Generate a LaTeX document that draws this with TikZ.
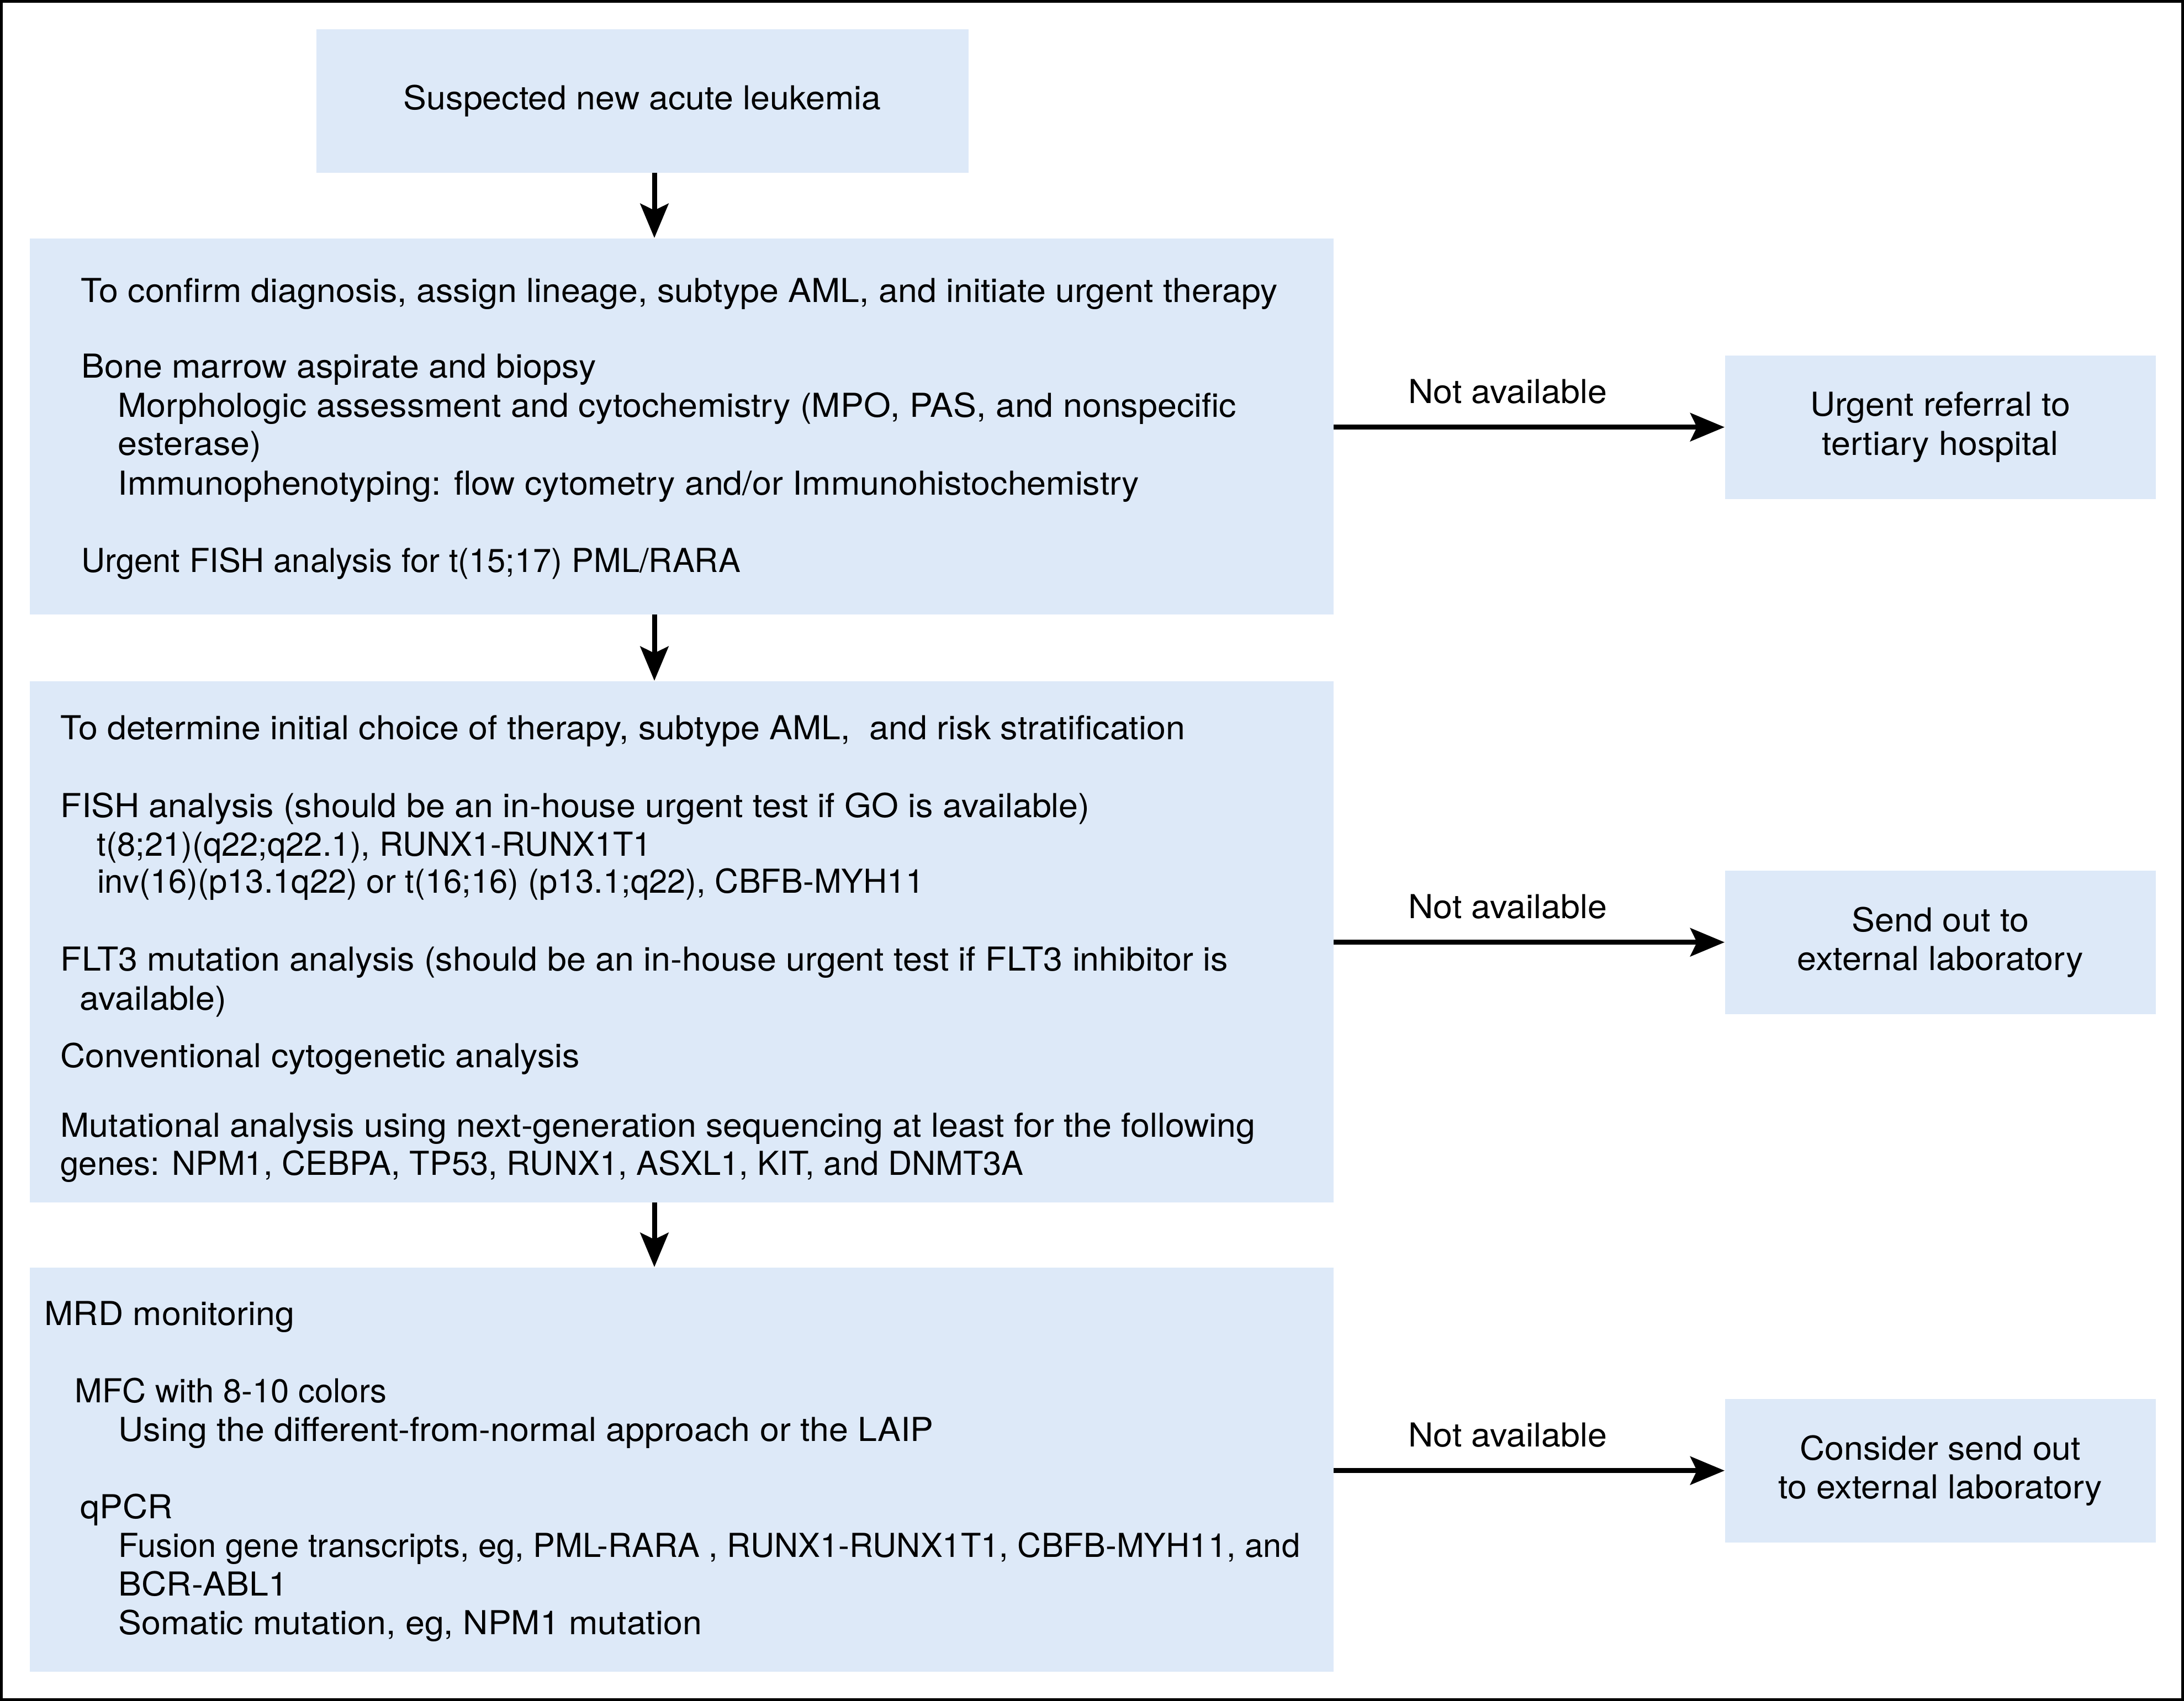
\documentclass[tikz,border=0pt]{standalone}
\usepackage{fontspec}
\setmainfont{TeX Gyre Heros}[FakeStretch=1.05]
\newfontfamily\plainheros{TeX Gyre Heros}
\usetikzlibrary{positioning}
\usetikzlibrary{arrows.meta}
\definecolor{paleblue}{RGB}{221,233,248}

\tikzset{
  box/.style={fill=paleblue, inner sep=0pt, anchor=north west, align=center},
  line/.style={anchor=base west, inner sep=0pt},
  codes/.style={font=\fontsize{17}{20.1}\plainheros},
  flow/.style={-{Stealth[length=6.2mm,width=5.1mm,inset=1.2mm]}, line width=0.9mm},
  na/.style={anchor=base, inner sep=0pt, yshift=4.3mm}
}

\begin{document}
\begin{tikzpicture}[x=1cm,y=1cm,font=\fontsize{17}{20.1}\selectfont]
	\useasboundingbox (0,0) rectangle (39.55,-30.81);
	\draw[line width=0.5mm] (0.025,-0.025) rectangle (39.525,-30.785);
	
	% main column
	\node[box, minimum width=11.81cm, minimum height=2.60cm] (suspect) at (5.72,-0.52) {Suspected new acute leukemia};
	\node[box, minimum width=23.61cm, minimum height=6.81cm] (confirm) at (0.53,-4.31) {};
	\node[box, minimum width=23.61cm, minimum height=9.44cm] (determine) at (0.53,-12.33) {};
	\node[box, minimum width=23.61cm, minimum height=7.32cm] (mrd) at (0.53,-22.95) {};
	
	% side boxes
	\node[box, minimum width=7.80cm, minimum height=2.60cm] (referral) at (31.23,-6.43) {Urgent referral to\\tertiary hospital};
	\node[box, minimum width=7.80cm, minimum height=2.60cm] (sendout) at (31.23,-15.76) {Send out to\\external laboratory};
	\node[box, minimum width=7.80cm, minimum height=2.60cm] (consider) at (31.23,-25.33) {Consider send out\\to external laboratory};
	
	% text of the confirm box
	\node[line] (c1) at (1.46,-5.48) {To confirm diagnosis, assign lineage, subtype AML, and initiate urgent therapy};
	\node[line] (c2) at (1.47,-6.85) {Bone marrow aspirate and biopsy};
	\node[line] (c3) at (2.13,-7.56) {Morphologic assessment and cytochemistry (MPO, PAS, and nonspecific};
	\node[line] (c4) at (2.13,-8.25) {esterase)};
	\node[line] (c5) at (2.13,-8.96) {Immunophenotyping: flow cytometry and/or Immunohistochemistry};
	\node[line, codes] (c6) at (1.47,-10.36) {Urgent FISH analysis for t(15;17) PML/RARA};
	
	% text of the determine box
	\node[line] (d1) at (1.09,-13.39) {To determine initial choice of therapy, subtype AML,\ \ and risk stratification};
	\node[line] (d2) at (1.09,-14.80) {FISH analysis (should be an in-house urgent test if GO is available)};
	\node[line, codes] (d3) at (1.75,-15.50) {t(8;21)(q22;q22.1), RUNX1-RUNX1T1};
	\node[line, codes] (d4) at (1.76,-16.17) {inv(16)(p13.1q22) or t(16;16) (p13.1;q22), CBFB-MYH11};
	\node[line] (d5) at (1.09,-17.58) {FLT3 mutation analysis (should be an in-house urgent test if FLT3 inhibitor is};
	\node[line] (d6) at (1.44,-18.29) {available)};
	\node[line] (d7) at (1.09,-19.33) {Conventional cytogenetic analysis};
	\node[line] (d8) at (1.09,-20.59) {Mutational analysis using next-generation sequencing at least for the following};
	\node[line, codes] (d9) at (1.09,-21.28) {genes: NPM1, CEBPA, TP53, RUNX1, ASXL1, KIT, and DNMT3A};
	
	% text of the mrd box
	\node[line] (m1) at (0.80,-24.00) {MRD monitoring};
	\node[line, codes] (m2) at (1.35,-25.40) {MFC with 8-10 colors};
	\node[line] (m3) at (2.14,-26.10) {Using the different-from-normal approach or the LAIP};
	\node[line] (m4) at (1.45,-27.50) {qPCR};
	\node[line, codes] (m5) at (2.14,-28.20) {Fusion gene transcripts, eg, PML-RARA , RUNX1-RUNX1T1, CBFB-MYH11, and};
	\node[line] (m6) at (2.14,-28.90) {BCR-ABL1};
	\node[line] (m7) at (2.14,-29.60) {Somatic mutation, eg, NPM1 mutation};
	
	% arrows
	\coordinate (spine) at (11.85,0);
	\draw[flow] (spine |- suspect.south) -- (spine |- confirm.north);
	\draw[flow] (spine |- confirm.south) -- (spine |- determine.north);
	\draw[flow] (spine |- determine.south) -- (spine |- mrd.north);
	
	\draw[flow] (confirm.east |- referral.west) -- node[na, pos=.445] (na1) {Not available} (referral.west);
	\draw[flow] (determine.east |- sendout.west) -- node[na, pos=.445] (na2) {Not available} (sendout.west);
	\draw[flow] (mrd.east |- consider.west) -- node[na, pos=.445] (na3) {Not available} (consider.west);
\end{tikzpicture}
\end{document}
